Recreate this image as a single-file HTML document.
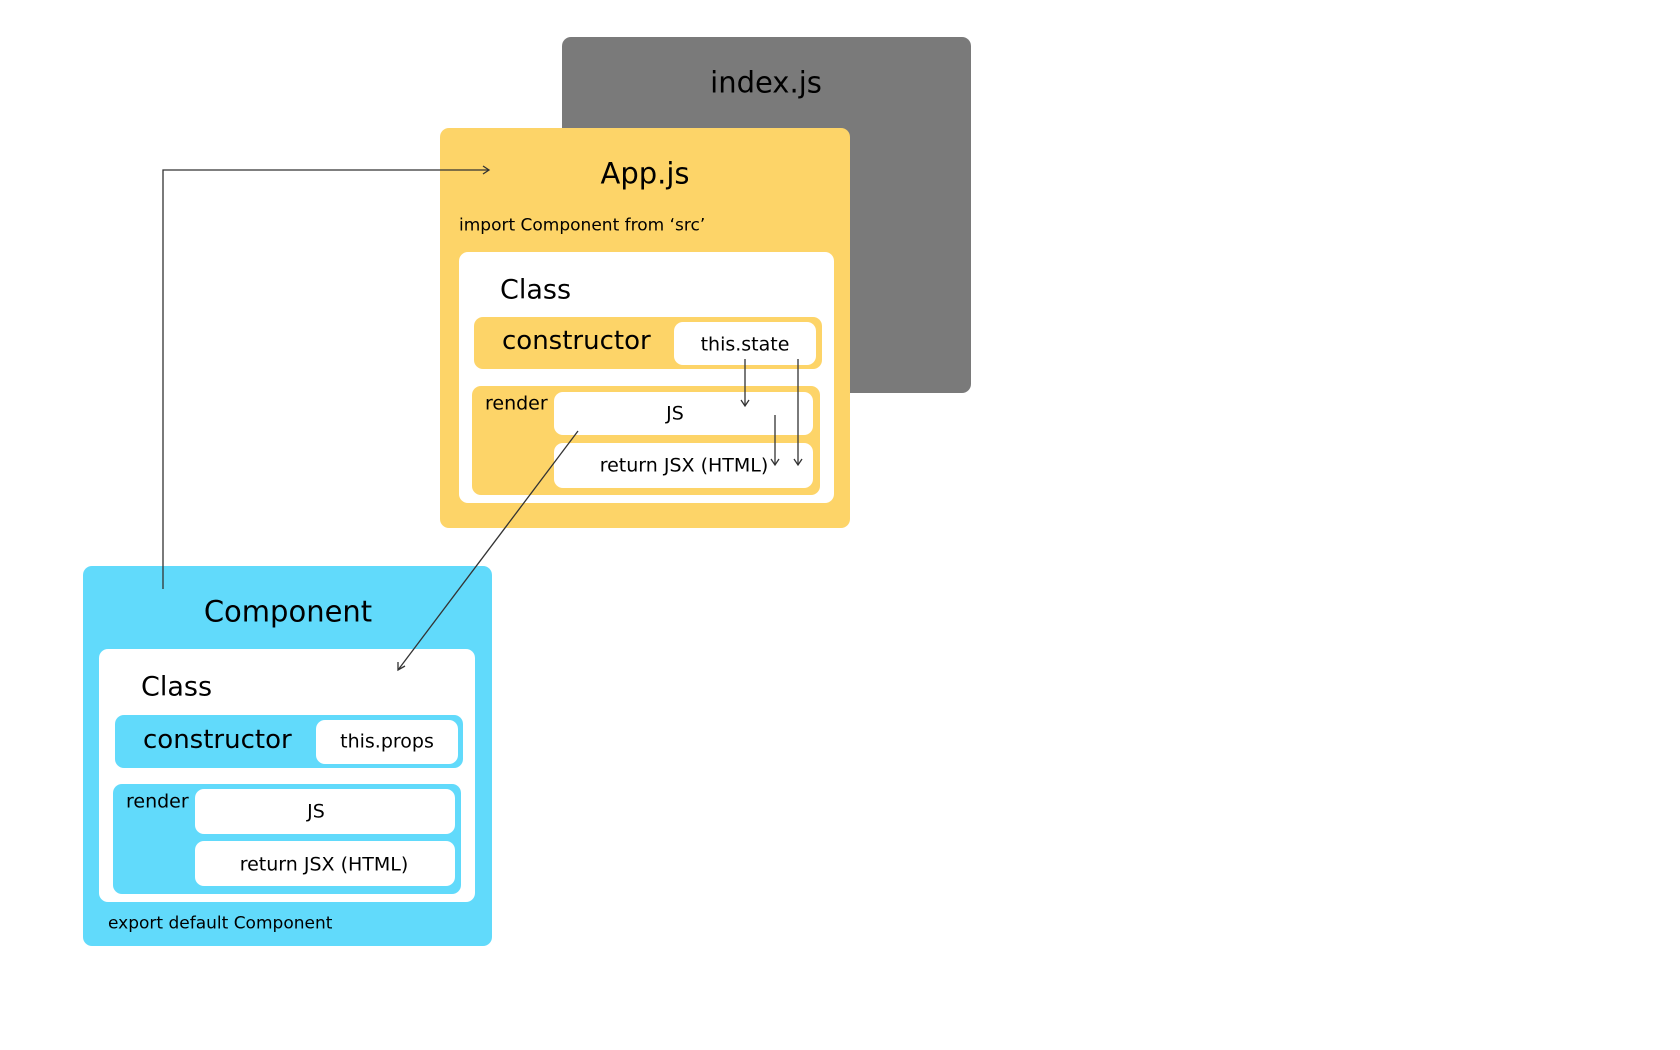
<!DOCTYPE html>
<html><head><meta charset="utf-8"><style>
body{margin:0;width:1680px;height:1050px;background:#fff;position:relative;overflow:hidden;font-family:"DejaVu Sans","Liberation Sans",sans-serif;color:#000}
.b{position:absolute;box-sizing:border-box}
.t{position:absolute;white-space:nowrap;line-height:1}
.c{transform:translate(-50%,-50%)}
.l{transform:translateY(-50%)}
</style></head><body>
<div class="b" style="left:562px;top:37px;width:409px;height:356px;background:#7a7a7a;border-radius:9px"></div>
<div class="t c" style="left:766px;top:83px;font-size:29px">index.js</div>

<div class="b" style="left:440px;top:128px;width:410px;height:400px;background:#fdd468;border-radius:9px"></div>
<div class="t c" style="left:645px;top:174px;font-size:29px">App.js</div>
<div class="t l" style="left:459px;top:226px;font-size:17px">import Component from ‘src’</div>
<div class="b" style="left:459px;top:252px;width:375px;height:251px;background:#fff;border-radius:9px"></div>
<div class="t l" style="left:500px;top:290px;font-size:27px">Class</div>
<div class="b" style="left:474px;top:317px;width:348px;height:52px;background:#fdd468;border-radius:9px"></div>
<div class="t l" style="left:502px;top:341px;font-size:26px">constructor</div>
<div class="b" style="left:674px;top:322px;width:142px;height:43px;background:#fff;border-radius:9px"></div>
<div class="t c" style="left:745px;top:345px;font-size:19px">this.state</div>
<div class="b" style="left:472px;top:386px;width:348px;height:109px;background:#fdd468;border-radius:9px"></div>
<div class="t l" style="left:485px;top:404px;font-size:19px">render</div>
<div class="b" style="left:554px;top:392px;width:259px;height:43px;background:#fff;border-radius:9px"></div>
<div class="t c" style="left:675px;top:414px;font-size:19px">JS</div>
<div class="b" style="left:554px;top:443px;width:259px;height:45px;background:#fff;border-radius:9px"></div>
<div class="t c" style="left:684px;top:466px;font-size:19px">return JSX (HTML)</div>

<div class="b" style="left:83px;top:566px;width:409px;height:380px;background:#61dafb;border-radius:9px"></div>
<div class="t c" style="left:288px;top:612px;font-size:29px">Component</div>
<div class="b" style="left:99px;top:649px;width:376px;height:253px;background:#fff;border-radius:9px"></div>
<div class="t l" style="left:141px;top:687px;font-size:27px">Class</div>
<div class="b" style="left:115px;top:715px;width:348px;height:53px;background:#61dafb;border-radius:9px"></div>
<div class="t l" style="left:143px;top:740px;font-size:26px">constructor</div>
<div class="b" style="left:316px;top:720px;width:142px;height:44px;background:#fff;border-radius:9px"></div>
<div class="t c" style="left:387px;top:742px;font-size:19px">this.props</div>
<div class="b" style="left:113px;top:784px;width:348px;height:110px;background:#61dafb;border-radius:9px"></div>
<div class="t l" style="left:126px;top:802px;font-size:19px">render</div>
<div class="b" style="left:195px;top:789px;width:260px;height:45px;background:#fff;border-radius:9px"></div>
<div class="t c" style="left:316px;top:812px;font-size:19px">JS</div>
<div class="b" style="left:195px;top:841px;width:260px;height:45px;background:#fff;border-radius:9px"></div>
<div class="t c" style="left:324px;top:865px;font-size:19px">return JSX (HTML)</div>
<div class="t l" style="left:108px;top:924px;font-size:17px">export default Component</div>

<svg width="1680" height="1050" style="position:absolute;left:0;top:0" fill="none" stroke="#333" stroke-width="1.3">
<polyline points="163,589 163,170 489,170"/>
<polyline points="483,166 489,170 483,174"/>
<line x1="745" y1="359" x2="745" y2="406"/><polyline points="741,400 745,406 749,400"/>
<line x1="798" y1="359" x2="798" y2="465"/><polyline points="794,459 798,465 802,459"/>
<line x1="775" y1="415" x2="775" y2="465"/><polyline points="771,459 775,465 779,459"/>
<line x1="578" y1="431" x2="398" y2="670"/><polyline points="398,662 398,670 405,666"/>
</svg>
</body></html>
